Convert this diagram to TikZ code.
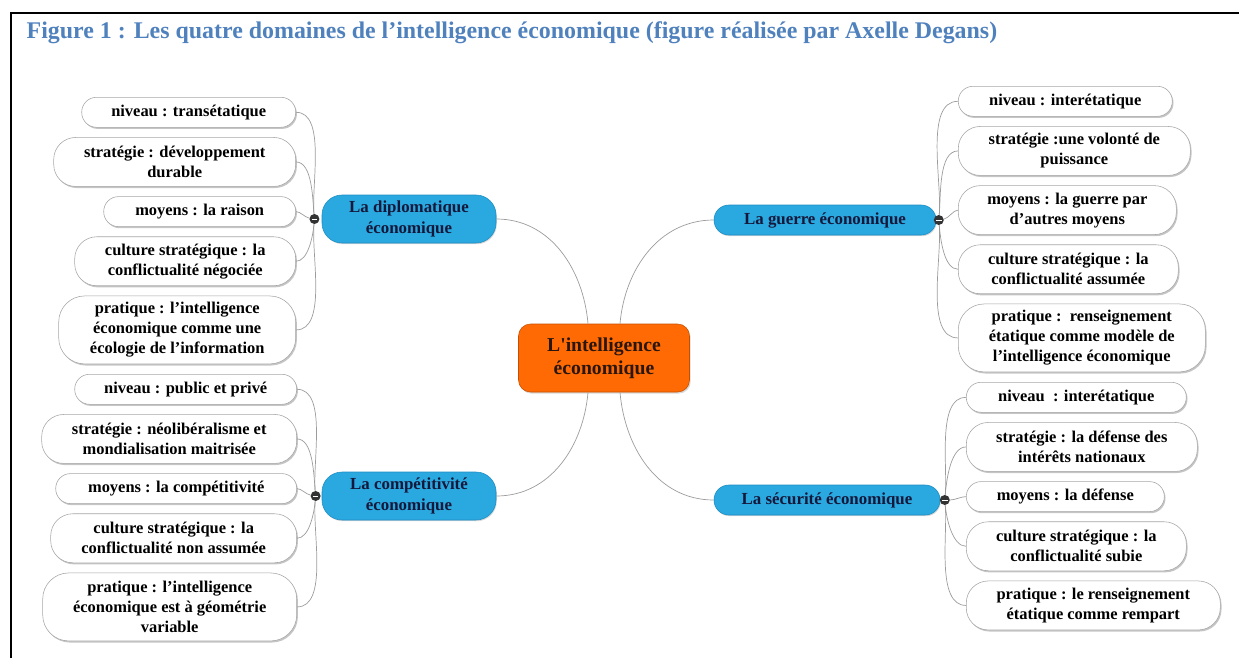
\documentclass[tikz,border=0pt]{standalone}
\usepackage{fontspec}
\setmainfont{Liberation Serif}
\usepackage{tikz}
\usetikzlibrary{positioning, shadows}
\definecolor{titleblue}{HTML}{4F81BD}
\definecolor{branchblue}{HTML}{2AA8E0}
\definecolor{branchedge}{HTML}{1F8EC2}
\definecolor{branchtext}{HTML}{15183A}
\definecolor{coreorange}{HTML}{FF6A05}
\definecolor{coreedge}{HTML}{C44F00}
\definecolor{coretext}{HTML}{2A160C}
\definecolor{linkgray}{HTML}{9C9C9C}
\newcommand{\leaffont}{\fontsize{11.7}{14.2}\selectfont\bfseries}
\newcommand{\branchfont}{\fontsize{12}{15}\selectfont\bfseries}
\tikzset{
node distance=2.4mm, % gap between two leaves of a group
every node/.style={inner sep=1pt},
leaf/.style={draw=gray!70, fill=white, align=center, font=\leaffont,
  drop shadow={shadow xshift=0.3mm, shadow yshift=-0.4mm, fill=black!45}},
one/.style={minimum height=7.5mm, rounded corners=3.7mm},
two/.style={minimum height=12.25mm, rounded corners=5.5mm},
three/.style={minimum height=17mm, rounded corners=6.5mm},
branch/.style={fill=branchblue, draw=branchedge, rounded corners=3.7mm, align=center,
  font=\branchfont, text=branchtext,
  drop shadow={shadow xshift=0.2mm, shadow yshift=-0.3mm, fill=black!30}},
core/.style={fill=coreorange, draw=coreedge, rounded corners=3mm, align=center,
  minimum width=42.75mm, minimum height=17mm, text=coretext,
  font=\fontsize{14}{16.5}\selectfont\bfseries,
  drop shadow={shadow xshift=0.3mm, shadow yshift=-0.4mm, fill=black!30}},
toggle/.style={circle, fill=black!80, minimum size=2.5mm, inner sep=0pt,
  path picture={\draw[white, line width=0.7pt]
    ([xshift=-0.7mm]path picture bounding box.center) -- ([xshift=0.7mm]path picture bounding box.center);}},
link/.style={draw=linkgray, line width=0.5pt},
twig/.style={link, looseness=0.75},
}

\begin{document}
\begin{tikzpicture}[x=0.25mm, y=0.25mm]%one unit is one pixel of the figure
  \useasboundingbox (0,0) rectangle (1239,-658);
  \draw[line width=0.5mm] (11,-658) -- (11,-13) -- (1239,-13);
  \node[anchor=base west, text=titleblue, font=\fontsize{17}{20}\selectfont\bfseries] (caption) at (25,-38)
    {Figure 1 : Les quatre domaines de l’intelligence économique (figure réalisée par Axelle Degans)};

  \node[core] (ie) at (604,-358) {L\textquotesingle intelligence\\économique};

  \node[branch, minimum width=43.5mm, minimum height=12mm, rounded corners=5mm] (dip) at (409,-219) {La diplomatique\\économique};
  \node[branch, minimum width=43.5mm, minimum height=12mm, rounded corners=5mm] (comp) at (409,-496) {La compétitivité\\économique};
  \node[branch, minimum width=55.5mm, minimum height=7.5mm] (guerre) at (825,-220) {La guerre économique};
  \node[branch, minimum width=56.5mm, minimum height=7.5mm] (secu) at (827,-500) {La sécurité économique};

  \node[toggle, left=0.5mm of dip] (tdip) {};
  \node[toggle, left=0.2mm of comp] (tcomp) {};
  \node[toggle, right=-0.7mm of guerre] (tguerre) {};
  \node[toggle, right=-0.2mm of secu] (tsecu) {};

  % diplomatie
  \node[leaf, one, minimum width=53.5mm, anchor=north east] (d1) at (296,-97) {niveau : transétatique};
  \node[leaf, two, minimum width=60.5mm, below=of d1.south east, anchor=north east] (d2) {stratégie : développement\\durable};
  \node[leaf, one, minimum width=48mm, below=of d2.south east, anchor=north east] (d3) {moyens : la raison};
  \node[leaf, two, minimum width=55.25mm, below=of d3.south east, anchor=north east] (d4) {culture stratégique : la\\conflictualité négociée};
  \node[leaf, three, minimum width=59.25mm, below=of d4.south east, anchor=north east] (d5) {pratique : l’intelligence\\économique comme une\\écologie de l’information};

  % competitivite
  \node[leaf, one, minimum width=55.5mm, anchor=north east] (c1) at (297,-374) {niveau : public et privé};
  \node[leaf, two, minimum width=63.75mm, below=of c1.south east, anchor=north east] (c2) {stratégie : néolibéralisme et\\mondialisation maitrisée};
  \node[leaf, one, minimum width=60.25mm, below=of c2.south east, anchor=north east] (c3) {moyens : la compétitivité};
  \node[leaf, two, minimum width=61.5mm, below=of c3.south east, anchor=north east] (c4) {culture stratégique : la\\conflictualité non assumée};
  \node[leaf, three, minimum width=63.5mm, below=of c4.south east, anchor=north east] (c5) {pratique : l’intelligence\\économique est à géométrie\\variable};

  % guerre
  \node[leaf, one, minimum width=53.5mm, anchor=north west] (g1) at (958,-86) {niveau : interétatique};
  \node[leaf, two, minimum width=58mm, below=of g1.south west, anchor=north west] (g2) {stratégie :une volonté de\\puissance};
  \node[leaf, two, minimum width=54.5mm, below=of g2.south west, anchor=north west] (g3) {moyens : la guerre par\\d’autres moyens};
  \node[leaf, two, minimum width=55mm, below=of g3.south west, anchor=north west] (g4) {culture stratégique : la\\conflictualité assumée};
  \node[leaf, three, minimum width=61.75mm, below=of g4.south west, anchor=north west] (g5) {pratique :\ \ renseignement\\étatique comme modèle de\\l’intelligence économique};

  % securite
  \node[leaf, one, minimum width=55mm, anchor=north west] (s1) at (966,-382) {niveau\ \ : interétatique};
  \node[leaf, two, minimum width=57.75mm, below=of s1.south west, anchor=north west] (s2) {stratégie : la défense des\\intérêts nationaux};
  \node[leaf, one, minimum width=49.5mm, below=of s2.south west, anchor=north west] (s3) {moyens : la défense};
  \node[leaf, two, minimum width=55mm, below=of s3.south west, anchor=north west] (s4) {culture stratégique : la\\conflictualité subie};
  \node[leaf, two, minimum width=63.5mm, below=of s4.south west, anchor=north west] (s5) {pratique : le renseignement\\étatique comme rempart};

  % centre vers domaines
  \draw[link] (ie.115) to[out=95,in=0] (dip.east);
  \draw[link] (ie.65) to[out=85,in=180] (guerre.west);
  \draw[link] (ie.-115) to[out=-95,in=0] (comp.east);
  \draw[link] (ie.-65) to[out=-85,in=180] (secu.west);

  % domaines vers feuilles
  \draw[twig] (tdip) to[out=95,in=0] (d1.east);
  \draw[twig] (tdip) to[out=95,in=0] (d2.east);
  \draw[twig] (tdip) to[out=170,in=0] (d3.east);
  \draw[twig] (tdip) to[out=-95,in=0] (d4.east);
  \draw[twig] (tdip) to[out=-95,in=0] (d5.east);
  \draw[twig] (tcomp) to[out=95,in=0] (c1.east);
  \draw[twig] (tcomp) to[out=95,in=0] (c2.east);
  \draw[twig] (tcomp) to[out=170,in=0] (c3.east);
  \draw[twig] (tcomp) to[out=-95,in=0] (c4.east);
  \draw[twig] (tcomp) to[out=-95,in=0] (c5.east);
  \draw[twig] (tguerre) to[out=85,in=180] (g1.west);
  \draw[twig] (tguerre) to[out=85,in=180] (g2.west);
  \draw[twig] (tguerre) to[out=10,in=180] (g3.west);
  \draw[twig] (tguerre) to[out=-85,in=180] (g4.west);
  \draw[twig] (tguerre) to[out=-85,in=180] (g5.west);
  \draw[twig] (tsecu) to[out=85,in=180] (s1.west);
  \draw[twig] (tsecu) to[out=85,in=180] (s2.west);
  \draw[twig] (tsecu) to[out=0,in=180] (s3.west);
  \draw[twig] (tsecu) to[out=-85,in=180] (s4.west);
  \draw[twig] (tsecu) to[out=-85,in=180] (s5.west);
\end{tikzpicture}
\end{document}
